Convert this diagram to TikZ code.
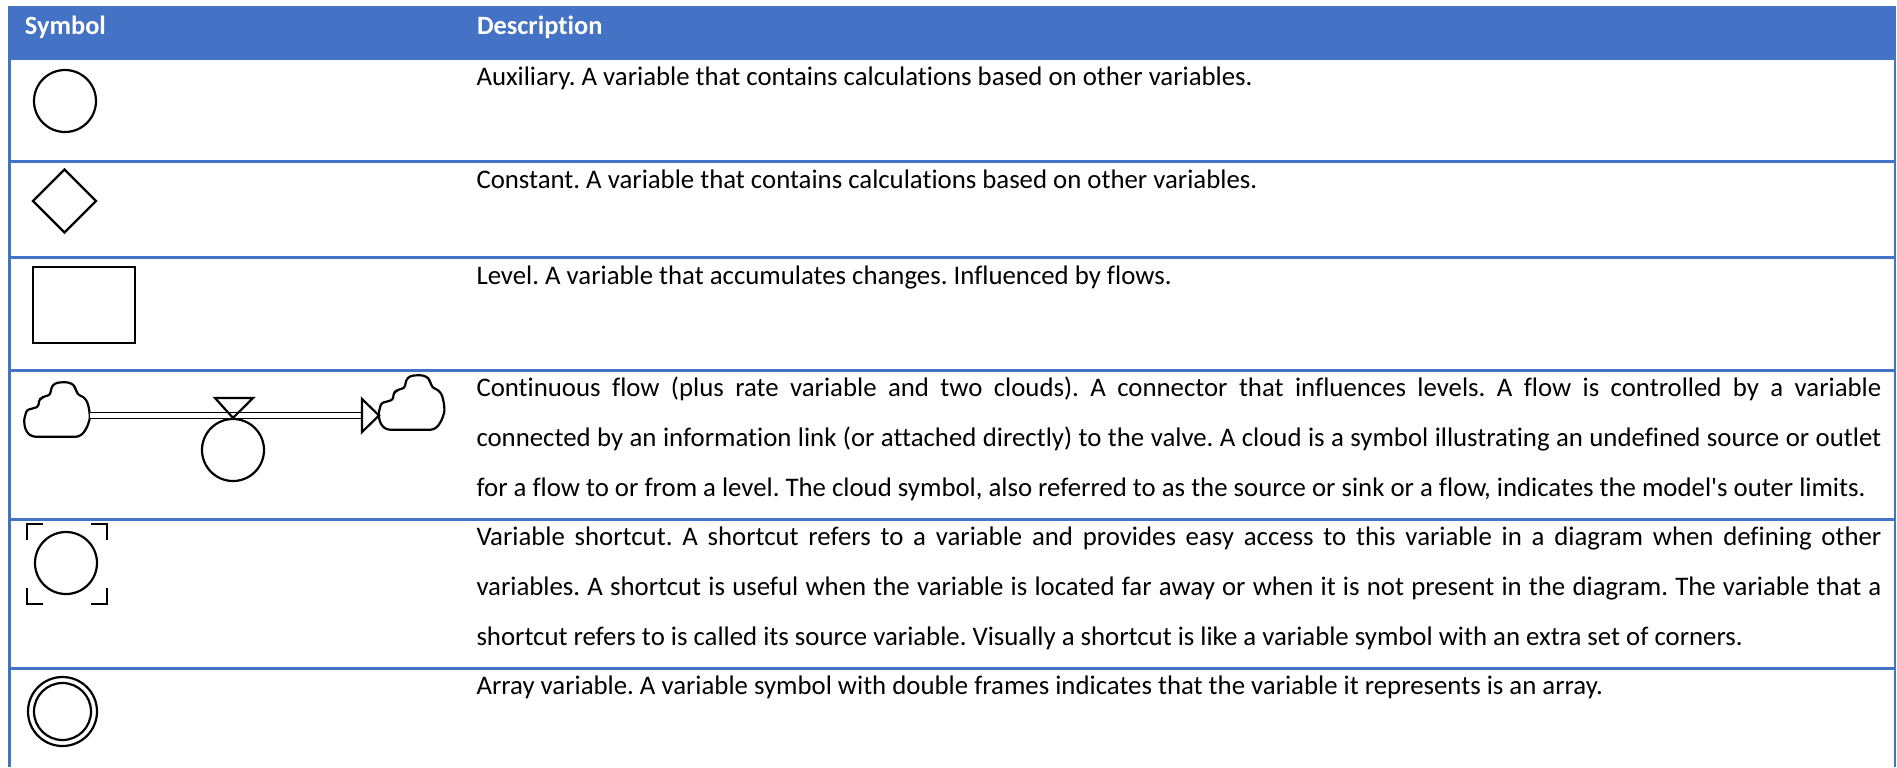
\documentclass[tikz,border=0pt]{standalone}
\usepackage{fontspec}
\setmainfont{Carlito}[Ligatures={NoCommon,NoContextual}]
\usetikzlibrary{shapes.geometric,calc}
\definecolor{accentblue}{HTML}{4472C4}
\frenchspacing
% a justified description line across the text column
\newcommand\justline[1]{\makebox[702.5pt][s]{#1}}
\begin{document}
\begin{tikzpicture}[x=0.5pt,y=-0.5pt,
  sym/.style={draw=black,line width=1.1pt},
  rowrule/.style={draw=accentblue,line width=1.5pt},
  siderule/.style={draw=accentblue,line width=1.3pt},
  desc/.style={anchor=base west,inner sep=0pt,outer sep=0pt,font=\fontsize{13.4}{15}\selectfont},
  hdr/.style={anchor=base west,inner sep=0pt,outer sep=0pt,text=white,font=\fontsize{13.2}{15}\selectfont\bfseries},
  flowcloud/.pic={
    \draw[sym,rounded corners=1.2pt]
      (0,0) -- (2.7,-10) -- (9.3,-11.7) -- (14.3,-13.3) -- (15.3,-20.7) -- (17.7,-21.7)
      -- (19.3,-23.3) -- (26,-25) -- (27.7,-33.3) -- (31,-36.7) -- (36,-37.7) -- (44.3,-37.7)
      -- (50,-35) -- (52.7,-28.3) -- (54.3,-25) -- (59.3,-23.3) -- (63.3,-18.3) -- (65.3,-10)
      -- (66,-1.7) -- (63.3,6.7) -- (59.3,13.3) -- (54.3,16.7) -- (9.3,16.7) -- (4.3,14)
      -- (1,8.3) -- cycle;
  }]

\useasboundingbox (0,0) rectangle (1897,767);

% table frame: header band, outer sides and row rules
\fill[accentblue] (8,6) rectangle (1896,60);
\draw[siderule] (9.5,60) -- (9.5,767);
\draw[siderule] (1894.8,60) -- (1894.8,767);
\foreach \ry in {161.5,257.5,370.5,519.5,668.5}
  \draw[rowrule] (8,\ry) -- (1896,\ry);

% header
\node[hdr] (hsym) at (25,34) {Symbol};
\node[hdr] (hdesc) at (477,34) {Description};

% auxiliary
\node[sym,circle,inner sep=0pt,minimum size=31pt] (aux) at (65,101) {};
\node[desc] (d1) at (476.5,85) {Auxiliary. A variable that contains calculations based on other variables.};

% constant
\node[sym,diamond,inner sep=0pt,minimum width=32pt,minimum height=32pt] (const) at (64.5,201) {};
\node[desc] (d2) at (476.5,188) {Constant. A variable that contains calculations based on other variables.};

% level
\node[sym,rectangle,inner sep=0pt,minimum width=51pt,minimum height=38pt] (level) at (84,305) {};
\node[desc] (d3) at (476.5,284) {Level. A variable that accumulates changes. Influenced by flows.};

% continuous flow: source cloud, pipe with valve and rate, sink cloud
\pic at (24,420) {flowcloud};
\pic at (378.6,413) {flowcloud};
\coordinate (pipestart) at (90,415.5);
\coordinate (pipeend) at (362,415.5);
\coordinate (tip) at (379,415.5);
\draw[line width=0.9pt,double=white,double distance=2.1pt] (pipestart) -- (pipeend);
\draw[sym,line join=miter] ($(pipeend)+(0,-16.5)$) -- (tip) -- ($(pipeend)+(0,16.5)$) -- cycle;
\node[sym,circle,inner sep=0pt,minimum size=31pt] (rate) at (233,450) {};
\draw[sym] (215,398) -- (253,398) -- (rate.north) -- cycle;
\node[desc] (d4a) at (476.5,396) {\justline{Continuous flow (plus rate variable and two clouds). A connector that influences levels. A flow is controlled by a variable}};
\node[desc] (d4b) at (476.5,446) {\justline{connected by an information link (or attached directly) to the valve. A cloud is a symbol illustrating an undefined source or outlet}};
\node[desc] (d4c) at (476.5,496) {for a flow to or from a level. The cloud symbol, also referred to as the source or sink or a flow, indicates the model\textquotesingle s outer limits.};

% variable shortcut: circle with four corner marks
\node[sym,circle,inner sep=0pt,minimum size=31pt] (short) at (66,563) {};
\draw[sym] (27,540) -- (27,524) -- (43,524);
\draw[sym] (91,524) -- (107,524) -- (107,540);
\draw[sym] (27,588) -- (27,604) -- (43,604);
\draw[sym] (91,604) -- (107,604) -- (107,588);
\node[desc] (d5a) at (476.5,545) {\justline{Variable shortcut. A shortcut refers to a variable and provides easy access to this variable in a diagram when defining other}};
\node[desc] (d5b) at (476.5,595) {\justline{variables. A shortcut is useful when the variable is located far away or when it is not present in the diagram. The variable that a}};
\node[desc] (d5c) at (476.5,645) {shortcut refers to is called its source variable. Visually a shortcut is like a variable symbol with an extra set of corners.};

% array variable: double circle
\node[sym,circle,inner sep=0pt,minimum size=34.5pt] (arrout) at (62.5,711.5) {};
\node[sym,circle,inner sep=0pt,minimum size=28.5pt] (arrin) at (62.5,711.5) {};
\node[desc] (d6) at (476.5,694) {Array variable. A variable symbol with double frames indicates that the variable it represents is an array.};
\end{tikzpicture}
\end{document}
